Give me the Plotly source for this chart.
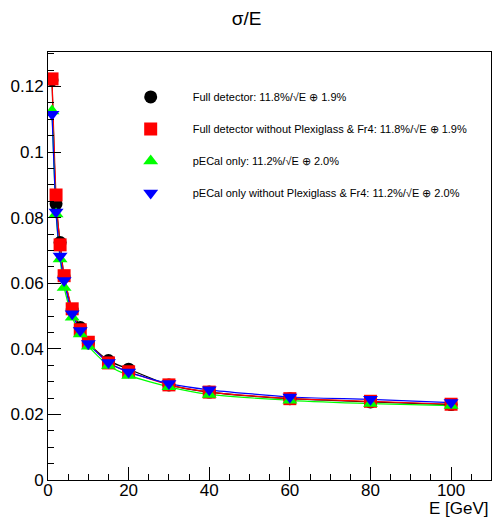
import plotly.graph_objects as go

energy = [1, 2, 3, 4, 6, 8, 10, 15, 20, 30, 40, 60, 80, 100]
full_detector = [0.1220, 0.0842, 0.0724, 0.0620, 0.0518, 0.0465, 0.0418, 0.0364, 0.0338, 0.0290, 0.0268, 0.0248, 0.0238, 0.0230]
full_no_plexi = [0.1223, 0.0869, 0.0717, 0.0623, 0.0522, 0.0458, 0.0420, 0.0357, 0.0330, 0.0290, 0.0268, 0.0248, 0.0240, 0.0231]
pecal_only = [0.1125, 0.0811, 0.0674, 0.0587, 0.0496, 0.0445, 0.0408, 0.0349, 0.0319, 0.0284, 0.0261, 0.0243, 0.0233, 0.0227]
pecal_no_plexi = [0.1115, 0.0817, 0.0683, 0.0608, 0.0507, 0.0456, 0.0416, 0.0358, 0.0329, 0.0294, 0.0275, 0.0253, 0.0246, 0.0236]

series_names = [
    "Full detector: 11.8%/√E ⊕ 1.9%",
    "Full detector without Plexiglass & Fr4: 11.8%/√E ⊕ 1.9%",
    "pECal only: 11.2%/√E ⊕ 2.0%",
    "pECal only without Plexiglass & Fr4: 11.2%/√E ⊕ 2.0%",
]
series_values = [full_detector, full_no_plexi, pecal_only, pecal_no_plexi]
colors = ["#000000", "#ff0000", "#00ff00", "#0000ff"]
symbols = ["circle", "square", "triangle-up", "triangle-down"]

fig = go.Figure()
for vals, col in zip(series_values, colors):
    fig.add_trace(go.Scatter(x=energy, y=vals, mode="lines",
                             line=dict(color=col, width=1.2, shape="spline", smoothing=0.6),
                             showlegend=False, hoverinfo="skip"))
for i, (vals, col, sym, name) in enumerate(zip(series_values, colors, symbols, series_names)):
    fig.add_trace(go.Scatter(x=energy, y=vals, mode="markers", name=name,
                             legendgroup=f"g{i}",
                             marker=dict(color=col, symbol=sym, size=13, line=dict(width=0))))

font_family = "Liberation Sans, Arial, sans-serif"
axis_font = dict(family=font_family, size=17, color="black")
fig.update_layout(
    width=493, height=517,
    margin=dict(l=48, r=2, t=52, b=37),
    paper_bgcolor="white", plot_bgcolor="white",
    title=dict(text="σ/E", x=0.5, xanchor="center", y=1 - 18 / 517, yanchor="middle",
               font=dict(family=font_family, size=19, color="black")),
    showlegend=True,
    legend=dict(x=0.137, y=0.929, xanchor="left", yanchor="top",
                bgcolor="rgba(0,0,0,0)", traceorder="grouped", tracegroupgap=13,
                font=dict(family=font_family, size=11, color="black"),
                itemwidth=74),
    xaxis=dict(range=[0, 109.9], showgrid=False, zeroline=False, showline=True,
               linecolor="black", linewidth=1, mirror=True, automargin=False,
               ticks="inside", ticklen=13, tickcolor="black", dtick=20, tick0=0,
               tickfont=axis_font, ticklabelstandoff=-5,
               minor=dict(ticks="inside", ticklen=6, dtick=5, tickcolor="black", showgrid=False)),
    yaxis=dict(range=[0, 0.1305], showgrid=False, zeroline=False, showline=True,
               linecolor="black", linewidth=1, mirror=True, automargin=False,
               ticks="inside", ticklen=13, tickcolor="black", dtick=0.02, tick0=0,
               tickfont=axis_font,
               minor=dict(ticks="inside", ticklen=6, dtick=0.005, tickcolor="black", showgrid=False)),
    annotations=[dict(text="E [GeV]", xref="paper", yref="paper", x=1, y=0,
                      xanchor="right", yanchor="middle", yshift=-28, showarrow=False,
                      font=axis_font)],
)

fig.write_html("out.html", config={"displayModeBar": False},
               post_script="document.body.style.margin='0';")
